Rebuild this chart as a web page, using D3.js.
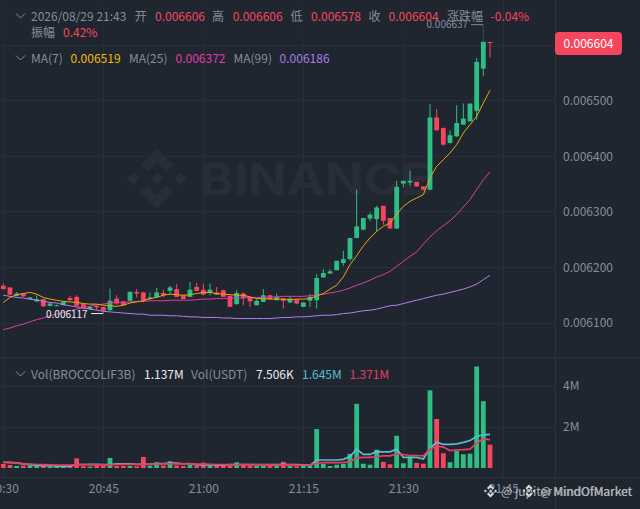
<!DOCTYPE html>
<html>
<head>
<meta charset="utf-8">
<script src="https://cdn.jsdelivr.net/npm/d3@7"></script>
<style>
  html, body { margin: 0; padding: 0; background: #1f2630; overflow: hidden; }
  text { font-family: "Noto Sans CJK SC", "Noto Sans", sans-serif; font-size: 12px; }
  .axis path, .axis line { display: none; }
  .axis text { fill: #848e9c; font-size: 12px; font-family: "Noto Sans CJK SC", "Noto Sans", sans-serif; }
</style>
</head>
<body>
<svg id="chart" width="640" height="509"></svg>
<script>
// prices are in millionths (6604 = 0.006604), one candle per minute from 20:30
const opens = [6167,6164,6149,6153,6143,6139,6143,6131,6131,6132,
  6145,6147,6134,6125,6131,6129,6123,6144,6139,6140,
  6156,6155,6143,6146,6154,6158,6161,6150,6147,6165,
  6160,6155,6155,6159,6149,6134,6153,6146,6132,6138,
  6150,6141,6144,6137,6142,6129,6140,6141,6182,6189,
  6195,6208,6215,6253,6268,6288,6287,6311,6289,6270,
  6351,6353,6354,6346,6340,6470,6451,6424,6436,6457,
  6463,6482,6558,6606]
const closes = [6161,6151,6153,6148,6146,6143,6130,6135,6132,6138,
  6141,6131,6126,6129,6128,6122,6140,6135,6132,6156,
  6153,6140,6146,6155,6150,6164,6147,6143,6160,6158,
  6151,6160,6151,6147,6129,6154,6145,6139,6140,6150,
  6143,6147,6140,6144,6135,6137,6147,6181,6190,6193,
  6212,6215,6253,6274,6289,6295,6308,6284,6270,6345,
  6356,6356,6346,6340,6470,6447,6421,6438,6460,6468,
  6495,6570,6608,6604]
const highs = [6171,6164,6156,6154,6147,6150,6144,6138,6133,6139,
  6149,6150,6135,6130,6132,6129,6162,6150,6140,6157,
  6161,6156,6155,6163,6160,6167,6170,6150,6174,6172,
  6171,6171,6165,6160,6149,6159,6155,6147,6143,6161,
  6151,6153,6145,6149,6143,6137,6152,6188,6197,6197,
  6212,6230,6253,6340,6289,6299,6311,6311,6289,6356,
  6356,6374,6354,6346,6494,6485,6452,6447,6492,6495,
  6495,6577,6637,6606]
const lows = [6161,6150,6148,6147,6143,6138,6129,6130,6130,6132,
  6140,6130,6125,6124,6123,6117,6122,6133,6131,6139,
  6146,6137,6142,6146,6146,6152,6147,6143,6147,6157,
  6150,6150,6151,6147,6129,6133,6132,6129,6132,6138,
  6143,6141,6126,6136,6134,6129,6129,6126,6182,6189,
  6195,6203,6212,6253,6267,6283,6265,6277,6270,6270,
  6344,6347,6345,6339,6339,6446,6419,6423,6435,6457,
  6463,6466,6545,6578]
const ma7 = [6137,6146,6151,6153,6155,6152,6146,6143,6141,6139,6138,6137,6135,6134,6134,6132,6131,6130,6132,6136,6138,6140,6144,6146,
  6150,6152,6151,6150,6151,6153,6155,6155,6153,6152,6151,6150,6150,6147,6144,6144,6143,6143,6143,6142,6143,6143,6144,6149,
  6153,6161,6168,6183,6205,6221,6239,6253,6265,6274,6280,6296,6310,6319,6325,
  6331,6361,6382,6394,6406,6421,6442,6457,6472,6496,6519]
const ma25 = [6088,6091,6095,6098,6102,6106,6109,6113,6116,6119,6122,6125,6128,6130,6133,6134,6136,6137,6137,6138,6139,6139,6140,6140,
  6140,6141,6141,6141,6141,6142,6143,6143,6144,6144,6145,6145,6145,6146,6146,6146,6147,6147,6148,6148,6148,6148,6149,6150,
  6152,6154,6156,6159,6163,6168,6172,6177,6183,6187,6193,6202,6211,6220,6228,
  6242,6255,6266,6275,6284,6295,6309,6322,6340,6358,6372]
const ma99 = [6150,6148,6146,6145,6143,6141,6139,6137,6136,6133,6131,6129,6127,6125,6123,6121,6120,6119,6118,6117,6116,6116,6114,6114,
  6114,6113,6113,6112,6111,6111,6110,6110,6110,6109,6109,6108,6108,6108,6108,6108,6108,6109,6110,6110,6111,6111,6112,6113,
  6114,6114,6115,6117,6118,6120,6122,6123,6125,6128,6131,6132,6135,6138,6141,
  6144,6147,6150,6152,6155,6158,6161,6165,6170,6178,6186]

// volume in millions
const volumes = [.2,.15,.1,.12,.13,.13,.1,.08,.07,.07,.1,.47,.09,.07,.12,.11,.49,.1,.1,.1,.08,.54,.12,.28,.12,.33,.12,.1,.15,.11,.26,.13,.15,.12,.11,.28,.15,.12,
  .1,.1,.15,.1,.3,.1,.08,.1,.13,1.9,.2,.1,.16,.2,.69,3.13,.21,.16,.89,.3,.18,1.57,.23,.56,.25,.21,3.79,2.39,.72,.28,.85,.67,.7,4.95,3.26,1.137]
const volMaFast = [.28,.27,.25,.2,.16,.13,.12,.11,.09,.08,.09,.17,.17,.18,.18,.17,.17,.2,.2,.2,.18,.18,.19,.22,.22,.24,.24,.2,.22,.15,.15,.15,.15,.13,.16,.17,.17,.17,
  .17,.16,.17,.16,.18,.17,.16,.15,.13,.39,.39,.39,.39,.42,.56,.92,.66,.66,.8,.79,.79,.92,.52,.52,.52,.44,.97,1.26,1.15,1.15,1.18,1.25,1.34,1.54,1.62,1.645]
const volMaSlow = [.27,.26,.24,.2,.19,.17,.16,.15,.14,.14,.14,.17,.16,.15,.15,.15,.15,.17,.18,.18,.18,.18,.19,.19,.2,.2,.21,.2,.2,.19,.19,.18,.17,.16,.16,.17,.16,.16,
  .15,.15,.15,.14,.15,.15,.14,.14,.15,.23,.26,.26,.26,.26,.31,.49,.52,.52,.56,.59,.59,.69,.66,.61,.61,.59,.92,1.08,1.02,.85,.89,.9,.92,1.21,1.43,1.371]

const priceTicks = [6100,6200,6300,6400,6500]
const volumeTicks = [2,4]
const timeTicks = [[0,'20:30'],[15,'20:45'],[30,'21:00'],[45,'21:15'],[60,'21:30'],[75,'21:45']]

const up = '#2ebd85', down = '#f6465d', grey = '#848e9c', white = '#eaecef', gridColor = '#282f3a'

const svg = d3.select('#chart')
const x = d3.scaleLinear().domain([0, 73]).range([3.33, 490])
const y = d3.scaleLinear().domain([6100, 6500]).range([323, 100.8])
const yVol = d3.scaleLinear().domain([0, 4]).range([468, 386])
const candles = opens.map((o, i) => ({i, o, c: closes[i], h: highs[i], l: lows[i], v: volumes[i]}))
const isUp = d => d.c >= d.o

// grid
const grid = svg.append('g').attr('stroke', gridColor).attr('shape-rendering', 'crispEdges')
grid.selectAll('line.h').data([...priceTicks, 6600]).join('line').attr('class', 'h')
  .attr('x1', 0).attr('x2', 555).attr('y1', d => y(d)).attr('y2', d => y(d))
grid.selectAll('line.v').data(timeTicks).join('line').attr('class', 'v')
  .attr('x1', d => x(d[0])).attr('x2', d => x(d[0])).attr('y1', 0).attr('y2', 477)
grid.selectAll('line.vv').data(volumeTicks).join('line').attr('class', 'vv')
  .attr('x1', 0).attr('x2', 555).attr('y1', d => yVol(d)).attr('y2', d => yVol(d))
const frame = svg.append('g').attr('stroke', '#2b323e').attr('shape-rendering', 'crispEdges')
frame.append('line').attr('x1', 0).attr('x2', 640).attr('y1', 357.5).attr('y2', 357.5)
frame.append('line').attr('x1', 0).attr('x2', 640).attr('y1', 477.5).attr('y2', 477.5)
frame.append('line').attr('x1', 555).attr('x2', 555).attr('y1', 0).attr('y2', 509)

function logo(cx, cy, r, fill, parent) {
  const shapes = [
    [[0,-1],[.55,-.45],[.32,-.22],[0,-.54],[-.32,-.22],[-.55,-.45]],
    [[0,1],[.55,.45],[.32,.22],[0,.54],[-.32,.22],[-.55,.45]],
    [[0,-.22],[.22,0],[0,.22],[-.22,0]],
    [[-.78,-.22],[-.56,0],[-.78,.22],[-1,0]],
    [[.78,-.22],[1,0],[.78,.22],[.56,0]]
  ]
  parent.append('g').selectAll('path').data(shapes).join('path')
    .attr('fill', fill)
    .attr('d', s => d3.line()(s.map(p => [cx + p[0]*r, cy + p[1]*r])) + 'Z')
}

// watermark
logo(157, 178.5, 30, '#282d37', svg)
svg.append('text').text('BINANCE')
  .attr('x', 200).attr('y', 195)
  .attr('textLength', 232).attr('lengthAdjust', 'spacingAndGlyphs')
  .attr('fill', '#282d37')
  .style('font-family', 'Inter, "Liberation Sans", sans-serif')
  .style('font-weight', 700).style('font-size', '44px')

// volume
svg.append('g').selectAll('rect').data(candles).join('rect')
  .attr('x', d => x(d.i) - 2.4).attr('width', 4.8)
  .attr('y', d => yVol(d.v)).attr('height', d => yVol(0) - yVol(d.v))
  .attr('fill', d => isUp(d) ? up : down)

const volLine = d3.line().x((d, i) => x(i)).y(d => yVol(d))
svg.append('path').attr('d', volLine(volMaFast)).attr('fill', 'none').attr('stroke', '#5bbdd0').attr('stroke-width', 1.7)
svg.append('path').attr('d', volLine(volMaSlow)).attr('fill', 'none').attr('stroke', '#ea3d62').attr('stroke-width', 1.7)

// candles
const candle = svg.append('g').selectAll('g').data(candles).join('g')
candle.append('line')
  .attr('x1', d => x(d.i)).attr('x2', d => x(d.i))
  .attr('y1', d => y(d.h)).attr('y2', d => y(d.l))
  .attr('stroke', d => isUp(d) ? up : down).attr('stroke-width', 1)
candle.append('rect')
  .attr('x', d => x(d.i) - 2.4).attr('width', 4.8)
  .attr('y', d => y(Math.max(d.o, d.c)))
  .attr('height', d => Math.max(1, Math.abs(y(d.o) - y(d.c))))
  .attr('fill', d => isUp(d) ? up : down)

// moving averages
const priceLine = d3.line().x((d, i) => x(i)).y(d => y(d))
const maLines = [[ma99, '#b07ff0'], [ma25, '#e23aa8'], [ma7, '#e8a90c']]
svg.append('g').selectAll('path').data(maLines).join('path')
  .attr('d', d => priceLine(d[0]))
  .attr('fill', 'none').attr('stroke', d => d[1]).attr('stroke-width', 1)

// legend sits on a translucent strip
svg.append('rect').attr('x', 0).attr('y', 0).attr('width', 500).attr('height', 42)
  .attr('fill', '#1f2630').attr('opacity', .7)

// high and low markers
svg.append('text').text('0.006637').attr('x', 426.5).attr('y', 27.5).attr('fill', grey).style('font-size', '10px')
svg.append('line').attr('x1', 471).attr('x2', 483).attr('y1', y(6637)).attr('y2', y(6637)).attr('stroke', grey)
svg.append('text').text('0.006117').attr('x', 46).attr('y', 317.5).attr('fill', white).style('font-size', '10px')
svg.append('line').attr('x1', 91).attr('x2', 103).attr('y1', y(6117)).attr('y2', y(6117)).attr('stroke', white)

// axes
svg.append('g').attr('class', 'axis').attr('transform', 'translate(563,0)')
  .call(d3.axisRight(y).tickValues(priceTicks).tickSize(0).tickPadding(0).tickFormat(d => (d / 1e6).toFixed(6)))
svg.append('g').attr('class', 'axis').attr('transform', 'translate(563,0)')
  .call(d3.axisRight(yVol).tickValues(volumeTicks).tickSize(0).tickPadding(0).tickFormat(d => d + 'M'))
svg.append('g').attr('class', 'axis').attr('transform', 'translate(0,484)')
  .call(d3.axisBottom(x).tickValues(timeTicks.map(d => d[0])).tickSize(0).tickPadding(0)
    .tickFormat(d => timeTicks.find(t => t[0] === d)[1]))

// last price tag
svg.append('rect').attr('x', 555).attr('y', 32).attr('width', 67).attr('height', 23).attr('rx', 4).attr('fill', '#f6465d')
svg.append('text').text('0.006604').attr('x', 588.5).attr('y', 47.5).attr('text-anchor', 'middle').attr('fill', '#fff')

// legends
function label(items, yPos) {
  svg.append('g').selectAll('text').data(items).join('text')
    .attr('x', d => d[1]).attr('y', yPos).attr('fill', d => d[2]).text(d => d[0])
}
label([['2026/08/29 21:43', 31, grey], ['开', 134.7, grey], ['0.006606', 155, down], ['高', 212, grey], ['0.006606', 232.7, down],
  ['低', 290.6, grey], ['0.006578', 311, down], ['收', 368.6, grey], ['0.006604', 388.6, down], ['涨跌幅', 447, grey], ['-0.04%', 490.6, down]], 20.5)
label([['振幅', 31, grey], ['0.42%', 63, down]], 37)
label([['MA(7)', 31, grey], ['0.006519', 70.6, '#f0b90b'], ['MA(25)', 129, grey], ['0.006372', 175.5, '#e23aa8'],
  ['MA(99)', 233.5, grey], ['0.006186', 279.6, '#a77be8']], 63)
label([['Vol(BROCCOLIF3B)', 31, grey], ['1.137M', 144, white], ['Vol(USDT)', 191, grey], ['7.506K', 256, white],
  ['1.645M', 302, '#5bbdd0'], ['1.371M', 349.5, '#ea3d62']], 378.5)

const caret = d3.line()
;[[20.5, 16], [20.5, 58], [20.5, 374]].forEach(p => {
  svg.append('path').attr('d', caret([[p[0] - 4.5, p[1] - 2.5], [p[0], p[1] + 2], [p[0] + 4.5, p[1] - 2.5]]))
    .attr('fill', 'none').attr('stroke', grey).attr('stroke-width', 1)
})

// square watermark overlays at the bottom right
logo(490.5, 491, 6.5, '#d8dadd', svg)
logo(529, 491, 6.5, '#d8dadd', svg)
const tag = svg.append('g').attr('fill', '#c8ccd0').attr('opacity', .85)
tag.append('text').text('@ jupiter').attr('x', 501).attr('y', 496)
tag.append('text').text('MindOfMarket').attr('x', 553).attr('y', 496)
tag.append('text').text('@ MindOfMarket').attr('x', 540).attr('y', 496).attr('textLength', 92)
</script>
</body>
</html>
